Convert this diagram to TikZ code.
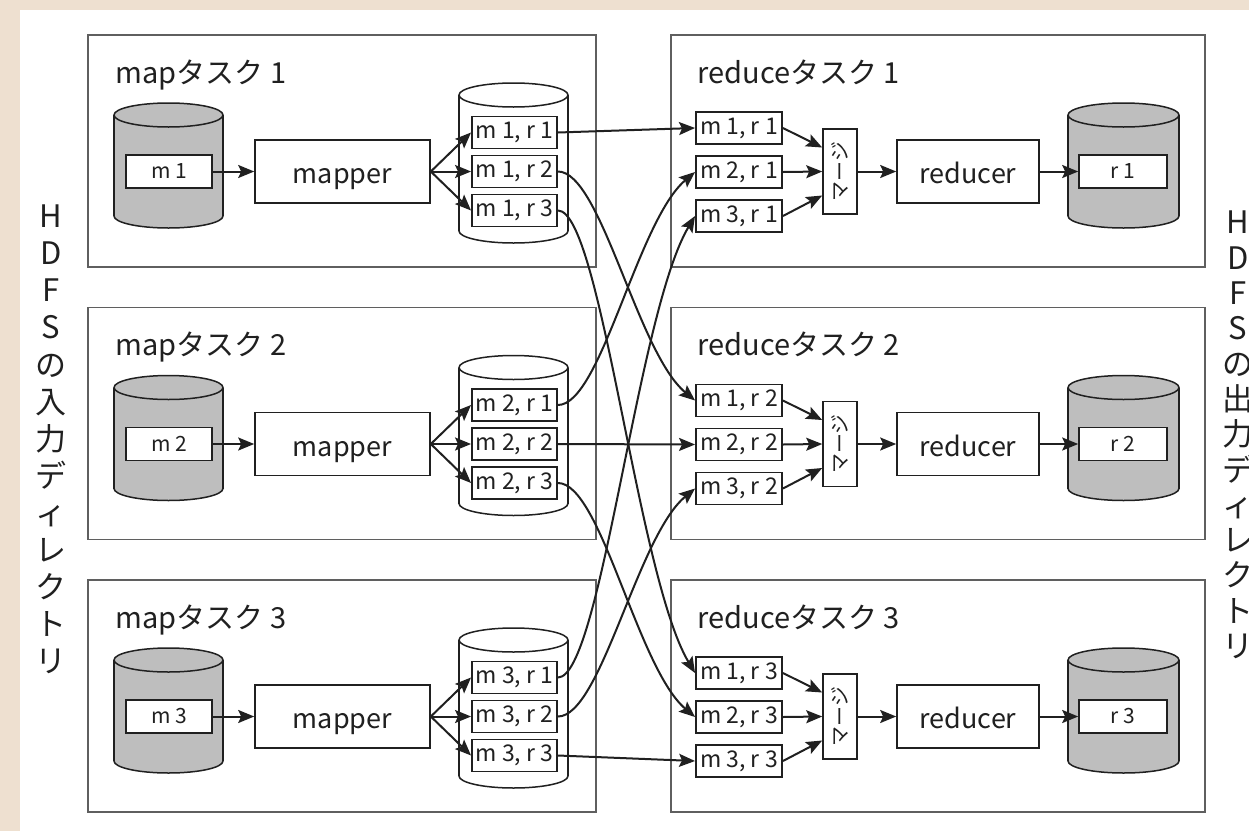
\documentclass[tikz,border=0pt]{standalone}
\usepackage{fontspec}
\usepackage{graphicx}
\setmainfont{Noto Sans CJK JP}
\usetikzlibrary{arrows.meta,calc}

\definecolor{paper}{RGB}{238,224,208}
\definecolor{dbgray}{RGB}{190,190,190}
\definecolor{ink}{RGB}{32,32,32}
\definecolor{frame}{RGB}{95,95,95}

% database cylinder: centre x, top y, bottom y, half width, fill colour
\newcommand\dbcyl[5]{%
  \begin{scope}[line width=0.75pt]
    \fill[#5] (#1-#4,#2+12) rectangle (#1+#4,#3-12);
    \fill[#5] (#1,#3-12) ellipse [x radius=#4, y radius=12];
    \begin{scope}
      \clip (#1-#4-3,#3-12) rectangle (#1+#4+3,#3+3);
      \draw[ink] (#1,#3-12) ellipse [x radius=#4, y radius=12];
    \end{scope}
    \draw[ink] (#1-#4,#2+12) -- (#1-#4,#3-12) (#1+#4,#2+12) -- (#1+#4,#3-12);
    \filldraw[draw=ink, fill=#5] (#1,#2+12) ellipse [x radius=#4, y radius=12];
  \end{scope}}

\begin{document}
\begin{tikzpicture}[x=0.5pt, y=-0.5pt,
  task/.style={draw=frame, line width=0.8pt},
  title/.style={anchor=base west, inner sep=0, text=ink, font=\fontsize{14.5}{17}\selectfont},
  procbox/.style={draw=ink, line width=0.8pt, fill=white, minimum height=31.5pt, inner sep=0, text height=12pt, text depth=0pt, text=ink, font=\fontsize{13.5}{16}\selectfont},
  part/.style={draw=ink, line width=0.95pt, fill=white, minimum width=42.5pt, minimum height=16pt, inner sep=0, text=ink, font=\fontsize{11.5}{13}\selectfont},
  dbitem/.style={draw=ink, line width=0.8pt, fill=white, minimum width=43pt, minimum height=16.5pt, inner sep=0, text=ink, font=\fontsize{10.5}{12}\selectfont},
  mergebox/.style={draw=ink, line width=0.8pt, fill=white, minimum width=17pt, minimum height=42.5pt, inner sep=0, text=ink, font=\fontsize{10}{12}\selectfont},
  arr/.style={draw=ink, line width=1pt, -{Stealth[length=8pt,width=6.5pt,inset=1.5pt]}},
  side/.style={align=center, inner sep=0, text=ink}
]
% page and panel
\fill[paper] (0,0) rectangle (1249,831);
\fill[white] (20,10) rectangle (1249,831);
\useasboundingbox (0,0) rectangle (1249,831);

\foreach \i in {1,2,3}{
  \pgfmathsetmacro\ty{35+272.5*(\i-1)}
  % map task
  \draw[task] (88,\ty) rectangle (596,\ty+232);
  \node[title] (maptitle\i) at (115,\ty+48) {mapタスク \i};
  \dbcyl{168.5}{\ty+68}{\ty+193}{54.5}{dbgray}
  \node[dbitem] (in\i) at (169,\ty+136.5) {m \i};
  \node[procbox, minimum width=87.5pt] (mapper\i) at (342.5,\ty+136.5) {mapper};
  \dbcyl{513.5}{\ty+48}{\ty+208}{54.5}{white}
  \foreach \j in {1,2,3}{
    \node[part] (mp\i\j) at (514.5,\ty+97.5+39*\j-39) {m \i, r \j};
    \draw[arr] (mapper\i.east) -- (mp\i\j.west);
  }
  \draw[arr] (in\i) -- (mapper\i);
  % reduce task
  \draw[task] (671,\ty) rectangle (1205,\ty+232);
  \node[title] (redtitle\i) at (697,\ty+48) {reduceタスク \i};
  \node[mergebox] (merge\i) at (840,\ty+136.5) {\rotatebox{90}{マージ}};
  \foreach \m in {1,2,3}{
    \node[part, minimum width=43pt] (rp\m\i) at (739,\ty+93+44*\m-44) {m \m, r \i};
    \draw[arr] (rp\m\i.east) -- ([yshift={(2-\m)*12pt}]merge\i.west);
  }
  \node[procbox, minimum width=71pt] (reducer\i) at (968,\ty+136.5) {reducer};
  \dbcyl{1123.5}{\ty+68}{\ty+193}{55.5}{dbgray}
  \node[dbitem, minimum width=44pt] (out\i) at (1123,\ty+136.5) {r \i};
  \draw[arr] (merge\i) -- (reducer\i);
  \draw[arr] (reducer\i) -- (out\i);
}

% shuffle: every map output partition goes to its reduce task
\foreach \i in {1,2,3}{
  \foreach \j in {1,2,3}{
    \pgfmathsetmacro\dd{(35+272.5*(\j-1)+93+44*(\i-1))-(35+272.5*(\i-1)+97.5+39*(\j-1))}
    \ifnum\i=\j
      \draw[arr] (mp\i\j.east) -- (rp\i\j.west);
    \else
      \draw[arr] (mp\i\j.east) .. controls ($(mp\i\j.east)+(43,0)$) and ($(rp\i\j.west)+(-58,-0.21*\dd)$) .. (rp\i\j.west);
    \fi
  }
}

% directory labels
\node[side, font=\fontsize{15.5}{18.55}\selectfont] (inlabel) at (51,439.5)
  {H\\D\\F\\S\\の\\入\\力\\デ\\ィ\\レ\\ク\\ト\\リ};
\node[side, font=\fontsize{15.5}{17.65}\selectfont] (outlabel) at (1238,435)
  {H\\D\\F\\S\\の\\出\\力\\デ\\ィ\\レ\\ク\\ト\\リ};
\end{tikzpicture}
\end{document}
